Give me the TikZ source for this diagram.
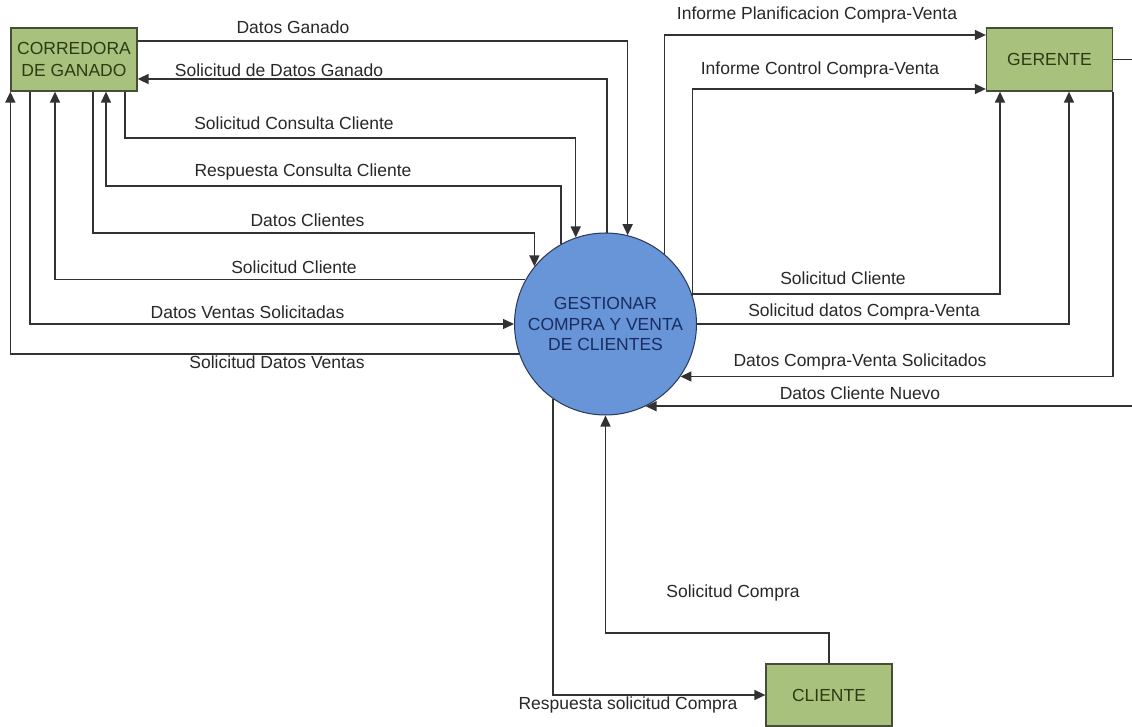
\documentclass[tikz,border=0pt]{standalone}
\usepackage{fontspec}
\setmainfont{Liberation Sans}
\usetikzlibrary{arrows.meta}
\definecolor{boxfill}{RGB}{168,194,126}
\definecolor{boxdraw}{RGB}{70,78,55}
\definecolor{boxtext}{RGB}{45,58,20}
\definecolor{circfill}{RGB}{104,148,216}
\definecolor{circdraw}{RGB}{40,55,90}
\definecolor{circtext}{RGB}{25,45,95}
\definecolor{linecol}{RGB}{50,50,50}
\definecolor{lbl}{RGB}{40,40,40}
\begin{document}
\begin{tikzpicture}[x=1pt,y=-1pt,
  entity/.style={draw=boxdraw, line width=1.3pt, fill=boxfill, minimum width=126pt, minimum height=63pt, inner sep=0pt, align=center, text=boxtext, font=\fontsize{17.5}{21.5}\selectfont},
  procnode/.style={circle, draw=circdraw, line width=1pt, fill=circfill, minimum size=182pt, inner sep=0pt, align=center, text=circtext, font=\fontsize{17.5}{20.7}\selectfont},
  flow/.style={draw=linecol, line width=1.5pt, -{Triangle[length=11pt,width=10pt]}},
  lab/.style={text=lbl, font=\fontsize{17.5}{20}\selectfont, inner sep=0pt}
]
\useasboundingbox (0,0) rectangle (1132,727);
\fill[white] (0,0) rectangle (1132,727);

% nodes
\node[entity] (cor) at (74,59.5) {CORREDORA\\DE GANADO};
\node[entity] (ger) at (1049.5,59.5) {GERENTE};
\node[entity, minimum height=62pt] (cli) at (829,695) {CLIENTE};
\node[procnode] (proc) at (605.5,324) {GESTIONAR\\COMPRA Y VENTA\\DE CLIENTES};

% left side flows
\draw[flow] (cor.east |- 0,41) -| (proc.76.33);
\draw[flow] (proc.89.06) |- (cor.east |- 0,79);
\draw[flow] (cor.south -| 125,0) |- (proc.109.6 |- 0,138) -- (proc.109.6);
\draw[flow] (proc.119.3) -- (proc.119.3 |- 0,186) -| (cor.south -| 106,0);
\draw[flow] (cor.south -| 93,0) |- (proc.141.8 |- 0,233) -- (proc.141.8);
\draw[flow] (proc.151.1) -| (cor.south -| 55,0);
\draw[flow] (cor.south -| 30,0) |- (proc.west);
\draw[flow] (proc.199.25) -| (cor.south west);

% right side flows
\draw[flow] (proc.50.8) |- (ger.west |- 0,35);
\draw[flow] (proc.18.1) |- (ger.west |- 0,89);
\draw[flow] (proc.19.9) -| (ger.south -| 1000,0);
\draw[flow] (proc.east) -| (ger.south -| 1069,0);
\draw[flow] (ger.south east) |- (proc.325.5);
\draw[flow] (ger.east) -- (1140,59.5) |- (proc.296.4);

% bottom flows
\draw[flow] (proc.235.5) |- (cli.west);
\draw[flow] (cli.north) |- (proc.south |- 0,633) -- (proc.south);

% labels
\node[lab] (l1) at (293,27) {Datos Ganado};
\node[lab] (l2) at (279,70) {Solicitud de Datos Ganado};
\node[lab] (l3) at (294,123) {Solicitud Consulta Cliente};
\node[lab] (l4) at (303,172) {Respuesta Consulta Cliente};
\node[lab] (l5) at (307.5,220) {Datos Clientes};
\node[lab] (l6) at (294,267) {Solicitud Cliente};
\node[lab] (l7) at (247.5,312) {Datos Ventas Solicitadas};
\node[lab] (l8) at (277,362) {Solicitud Datos Ventas};
\node[lab] (r1) at (817,15) {Informe Planificacion Compra-Venta};
\node[lab] (r2) at (820,70) {Informe Control Compra-Venta};
\node[lab] (r3) at (843,278) {Solicitud Cliente};
\node[lab] (r4) at (864,312) {Solicitud datos Compra-Venta};
\node[lab] (r5) at (860,362) {Datos Compra-Venta Solicitados};
\node[lab] (r6) at (860,393) {Datos Cliente Nuevo};
\node[lab] (b1) at (733,593) {Solicitud Compra};
\node[lab] (b2) at (628,705) {Respuesta solicitud Compra};
\end{tikzpicture}
\end{document}
